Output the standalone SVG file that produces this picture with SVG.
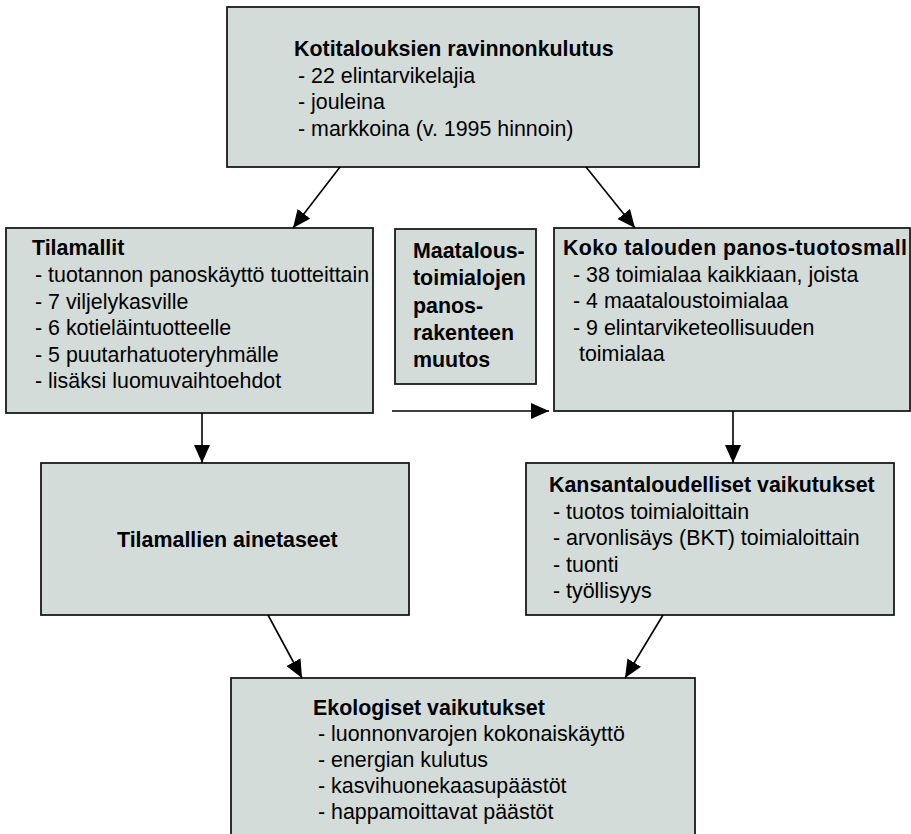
<svg xmlns="http://www.w3.org/2000/svg" width="911" height="834" viewBox="0 0 911 834">
<defs>
<style>
.box{fill:#d4dcd9;stroke:#1a1a1a;stroke-width:1.8}
text{font-family:"Liberation Sans",Arial,sans-serif;font-size:21.4px;fill:#000}
.b{font-weight:bold}
.con{stroke:#000;stroke-width:1.6;fill:none;marker-end:url(#ah)}
</style>
<marker id="ah" markerUnits="userSpaceOnUse" markerWidth="18" markerHeight="16" viewBox="0 0 18 16" refX="18" refY="8" orient="auto">
<path d="M0,0 L18,8 L0,16 Z" fill="#000"/>
</marker>
</defs>
<rect width="911" height="834" fill="#fff"/>
<g id="kotitaloudet">
<rect class="box" x="227" y="7" width="472" height="160"/>
<text class="b" x="294" y="56">Kotitalouksien ravinnonkulutus</text>
<text x="298" y="83">- 22 elintarvikelajia</text>
<text x="298" y="109">- jouleina</text>
<text x="298" y="136">- markkoina (v. 1995 hinnoin)</text>
</g>
<g id="tilamallit">
<rect class="box" x="6" y="228" width="367" height="185"/>
<text class="b" x="32" y="255">Tilamallit</text>
<text x="35" y="282">- tuotannon panoskäyttö tuotteittain</text>
<text x="35" y="308.5">- 7 viljelykasville</text>
<text x="35" y="335">- 6 kotieläintuotteelle</text>
<text x="35" y="361.5">- 5 puutarhatuoteryhmälle</text>
<text x="35" y="388">- lisäksi luomuvaihtoehdot</text>
</g>
<g id="maatalous">
<rect class="box" x="395" y="229" width="141" height="155"/>
<text class="b" x="413" y="258">Maatalous-</text>
<text class="b" x="413" y="285">toimialojen</text>
<text class="b" x="413" y="312.5">panos-</text>
<text class="b" x="413" y="340">rakenteen</text>
<text class="b" x="413" y="367">muutos</text>
</g>
<g id="koko">
<rect class="box" x="554" y="228" width="356" height="183"/>
<text class="b" x="563" y="255" textLength="344" lengthAdjust="spacing">Koko talouden panos-tuotosmall</text>
<text x="573" y="281.5">- 38 toimialaa kaikkiaan, joista</text>
<text x="573" y="308">- 4 maataloustoimialaa</text>
<text x="573" y="334.5">- 9 elintarviketeollisuuden</text>
<text x="579" y="361">toimialaa</text>
</g>
<g id="ainetaseet">
<rect class="box" x="41" y="463" width="368" height="152"/>
<text class="b" x="117" y="547">Tilamallien ainetaseet</text>
</g>
<g id="kansantalous">
<rect class="box" x="526" y="463" width="368" height="152"/>
<text class="b" x="549" y="492">Kansantaloudelliset vaikutukset</text>
<text x="553" y="518.5">- tuotos toimialoittain</text>
<text x="553" y="545">- arvonlisäys (BKT) toimialoittain</text>
<text x="553" y="571.5">- tuonti</text>
<text x="553" y="598">- työllisyys</text>
</g>
<g id="ekologiset">
<rect class="box" x="231" y="678" width="464" height="160"/>
<text class="b" x="313" y="715">Ekologiset vaikutukset</text>
<text x="318" y="741">- luonnonvarojen kokonaiskäyttö</text>
<text x="318" y="767">- energian kulutus</text>
<text x="318" y="793">- kasvihuonekaasupäästöt</text>
<text x="318" y="819">- happamoittavat päästöt</text>
</g>
<g id="connectors">
<line class="con" x1="340" y1="167" x2="293" y2="228"/>
<line class="con" x1="586" y1="167" x2="635" y2="228"/>
<line class="con" x1="202" y1="413" x2="202" y2="463"/>
<line class="con" x1="392" y1="411" x2="549" y2="411"/>
<line class="con" x1="733" y1="411" x2="733" y2="463"/>
<line class="con" x1="268" y1="615" x2="302" y2="678"/>
<line class="con" x1="663" y1="615" x2="625" y2="678"/>
</g>
</svg>
